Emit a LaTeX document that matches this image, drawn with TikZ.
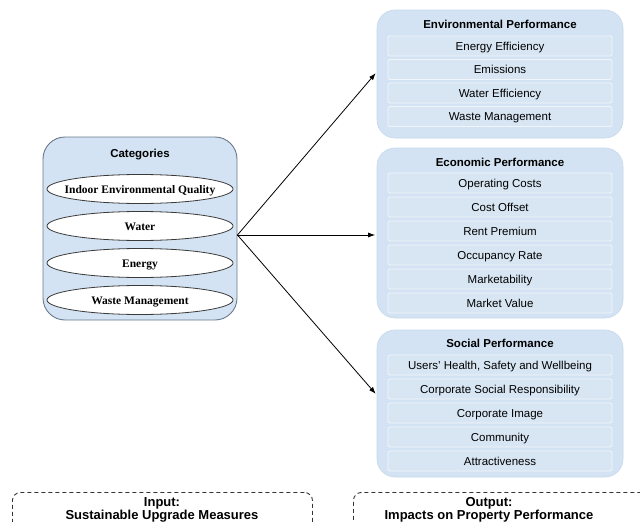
\documentclass[tikz,border=0pt]{standalone}
\usepackage{fontspec}
\setmainfont{Liberation Sans}
\newfontfamily\tnr{Liberation Serif}
\usetikzlibrary{arrows.meta,shapes.geometric}
\definecolor{boxfill}{HTML}{D3E3F3}
\definecolor{groupdraw}{HTML}{C6D8EA}
\definecolor{itemfill}{HTML}{D8E6F4}
\definecolor{itemdraw}{HTML}{F0F5FB}
\definecolor{catdraw}{HTML}{6A7A8A}
\definecolor{elldraw}{HTML}{3A3A3A}
\definecolor{dashdraw}{HTML}{333333}
\tikzset{
  group/.style={draw=groupdraw, fill=boxfill, rounded corners=18pt, line width=0.6pt, minimum width=246pt, inner sep=0pt},
  catbox/.style={draw=catdraw, fill=boxfill, rounded corners=22pt, line width=0.9pt, minimum width=194pt, minimum height=183pt, inner sep=0pt},
  item/.style={draw=itemdraw, fill=itemfill, line width=0.9pt, minimum width=224pt, minimum height=20pt, inner sep=0pt, rounded corners=1.5pt, text height=9pt, text depth=1pt, font=\fontsize{11.5}{13}\selectfont},
  ttl/.style={font=\bfseries\fontsize{11.5}{13}\selectfont, inner sep=0pt, text height=9pt, text depth=1pt},
  ell/.style={ellipse, draw=elldraw, fill=white, line width=0.8pt, minimum width=186pt, minimum height=29pt, inner xsep=-10pt, inner ysep=0pt, text height=8pt, text depth=0pt, font=\tnr\bfseries\fontsize{11.5}{13}\selectfont},
  arr/.style={-{Latex[length=7pt,width=5pt]}, line width=0.8pt, shorten >=1.5pt},
  dbox/.style={draw=dashdraw, dash pattern=on 4pt off 3pt, rounded corners=8pt, line width=0.9pt, inner sep=0pt, anchor=north west},
  lab/.style={font=\bfseries\fontsize{13}{15}\selectfont, inner sep=0pt, anchor=base}
}
\begin{document}
\begin{tikzpicture}[x=1pt,y=-1pt]
\useasboundingbox (0,0) rectangle (640,522);
\clip (0,0) rectangle (640,522);

% Left categories box
\node[catbox] (cat) at (140,228.5) {};
\node[ttl] (cattitle) at (140,153) {Categories};
\node[ell] (ieq) at (140,189) {Indoor Environmental Quality};
\node[ell] (water) at (140,226) {Water};
\node[ell] (energy) at (140,263) {Energy};
\node[ell] (waste) at (140,300) {Waste Management};

% Environmental performance
\node[group, minimum height=128pt] (env) at (500,74) {};
\node[ttl] (envtitle) at (500,24) {Environmental Performance};
\foreach \t/\y/\n in {Energy Efficiency/46/e1, Emissions/69.5/e2, Water Efficiency/93/e3, Waste Management/116.5/e4}
  \node[item] (\n) at (500,\y) {\t};

% Economic performance
\node[group, minimum height=170pt] (eco) at (500,233) {};
\node[ttl] (ecotitle) at (500,162) {Economic Performance};
\foreach \t/\y/\n in {Operating Costs/183/c1, Cost Offset/207/c2, Rent Premium/231/c3, Occupancy Rate/255/c4, Marketability/279/c5, Market Value/303/c6}
  \node[item] (\n) at (500,\y) {\t};

% Social performance
\node[group, minimum height=147pt] (soc) at (500,403.5) {};
\node[ttl] (soctitle) at (500,343) {Social Performance};
\foreach \t/\y/\n in {Users' Health{,} Safety and Wellbeing/365/s1, Corporate Social Responsibility/389/s2, Corporate Image/413/s3, Community/437/s4, Attractiveness/461/s5}
  \node[item] (\n) at (500,\y) {\t};

% Arrows
\coordinate (o) at ([yshift=-6.5pt]cat.east);
\draw[arr] (o) -- ([yshift=2pt]env.west);
\draw[arr] (o) -- ([yshift=-2pt]eco.west);
\draw[arr] (o) -- ([yshift=8.5pt]soc.west);

% Dashed input / output boxes
\node[dbox, minimum width=300pt, minimum height=60pt] (inbox) at (12,492) {};
\node[dbox, minimum width=310pt, minimum height=60pt] (outbox) at (353,492) {};
\node[lab] (in1) at (162,506) {Input:};
\node[lab] (in2) at (162,519) {Sustainable Upgrade Measures};
\node[lab] (out1) at (489,506) {Output:};
\node[lab] (out2) at (489,519) {Impacts on Property Performance};
\end{tikzpicture}
\end{document}
